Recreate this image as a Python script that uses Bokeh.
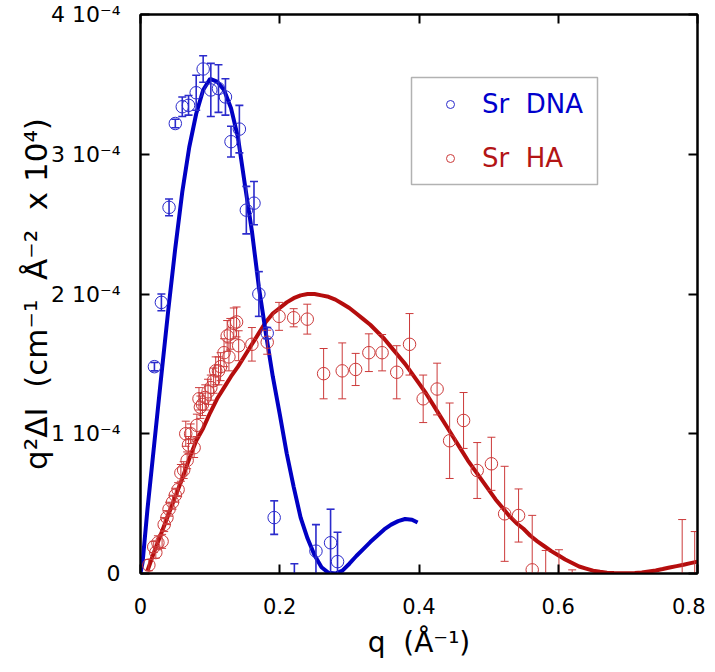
from bokeh.plotting import figure
from bokeh.models import (FixedTicker, LinearAxis, Legend, LegendItem, BoxAnnotation,
                          Range1d, ColumnDataSource)
from bokeh.embed import file_html
from bokeh.resources import INLINE

# ---------------- data (q in 1/Angstrom, intensity in units of 1e-4) ----------------
dna_q = [0.020, 0.030, 0.041, 0.050, 0.060, 0.069, 0.080, 0.090, 0.101, 0.112, 0.122,
         0.130, 0.142, 0.152, 0.163, 0.170, 0.182, 0.192, 0.221, 0.252, 0.273, 0.283]
dna_y = [1.48, 1.94, 2.62, 3.22, 3.34, 3.35, 3.44, 3.61, 3.46, 3.47, 3.41,
         3.09, 3.18, 2.60, 2.65, 2.00, 1.72, 0.40, -0.10, 0.16, 0.22, 0.085]
dna_err = [0.03, 0.06, 0.06, 0.03, 0.07, 0.07, 0.125, 0.095, 0.19, 0.17, 0.13,
           0.11, 0.17, 0.17, 0.155, 0.16, 0.04, 0.12, 0.17, 0.19, 0.24, 0.21]

ha_q = [0.012, 0.019, 0.022, 0.025, 0.031, 0.034, 0.038, 0.041, 0.046, 0.050, 0.054,
        0.058, 0.062, 0.065, 0.067, 0.069, 0.072, 0.077, 0.081, 0.084, 0.086, 0.089,
        0.093, 0.097, 0.101, 0.105, 0.108, 0.112, 0.115, 0.120, 0.1245, 0.127, 0.129,
        0.134, 0.138, 0.141, 0.160, 0.182, 0.199, 0.220, 0.2395, 0.263, 0.2897, 0.309,
        0.328, 0.347, 0.368, 0.3864, 0.406, 0.426, 0.444, 0.464, 0.4836, 0.504, 0.523,
        0.543, 0.5626, 0.582, 0.601, 0.620, 0.778, 0.796]
ha_y = [0.06, 0.19, 0.15, 0.22, 0.23, 0.35, 0.40, 0.46, 0.51, 0.56, 0.60,
        0.72, 0.74, 1.00, 0.81, 0.92, 1.00, 0.90, 1.06, 1.25, 1.19, 1.21,
        1.26, 1.30, 1.33, 1.38, 1.45, 1.45, 1.48, 1.58, 1.70, 1.55, 1.715,
        1.79, 1.80, 1.63, 1.64, 1.655, 1.84, 1.83, 1.82, 1.43, 1.45, 1.46,
        1.58, 1.58, 1.44, 1.64, 1.25, 1.32, 0.95, 1.095, 0.737, 0.785, 0.427,
        0.415, 0.026, -0.10, -0.05, -0.10, -0.05, -0.05]
ha_err = [0.04, 0.04, 0.04, 0.05, 0.05, 0.05, 0.05, 0.05, 0.05, 0.05, 0.05,
          0.06, 0.06, 0.09, 0.06, 0.06, 0.07, 0.07, 0.08, 0.08, 0.08, 0.08,
          0.09, 0.09, 0.09, 0.09, 0.10, 0.10, 0.10, 0.10, 0.11, 0.10, 0.11,
          0.11, 0.107, 0.107, 0.12, 0.086, 0.10, 0.065, 0.107, 0.18, 0.20, 0.115,
          0.135, 0.13, 0.19, 0.22, 0.17, 0.185, 0.27, 0.20, 0.20, 0.19, 0.34,
          0.19, 0.39, 0.265, 0.22, 0.126, 0.436, 0.35]

dna_fit_q = [0.000, 0.003, 0.010, 0.020, 0.030, 0.040, 0.050, 0.060, 0.070, 0.080, 0.090,
             0.100, 0.110, 0.120, 0.130, 0.140, 0.150, 0.160, 0.170, 0.180, 0.190, 0.200,
             0.210, 0.220, 0.230, 0.240, 0.250, 0.260, 0.270, 0.280, 0.290, 0.300, 0.310,
             0.320, 0.330, 0.340, 0.350, 0.360, 0.370, 0.380, 0.390, 0.398]
dna_fit_y = [0.00, 0.08, 0.46, 0.94, 1.42, 1.89, 2.33, 2.73, 3.05, 3.29, 3.46,
             3.54, 3.52, 3.46, 3.33, 3.12, 2.78, 2.45, 2.05, 1.72, 1.41, 1.14,
             0.86, 0.62, 0.40, 0.25, 0.13, 0.045, 0.005, 0.00, 0.02, 0.07, 0.125,
             0.175, 0.225, 0.27, 0.315, 0.35, 0.375, 0.39, 0.385, 0.365]

ha_fit_q = [0.010, 0.020, 0.030, 0.040, 0.050, 0.060, 0.070, 0.080, 0.090, 0.100,
            0.110, 0.120, 0.130, 0.140, 0.150, 0.160, 0.170, 0.180, 0.190, 0.200,
            0.210, 0.220, 0.230, 0.240, 0.250, 0.260, 0.270, 0.280, 0.290, 0.300,
            0.310, 0.320, 0.330, 0.340, 0.350, 0.360, 0.370, 0.380, 0.390, 0.400,
            0.410, 0.420, 0.430, 0.440, 0.450, 0.460, 0.470, 0.480, 0.490, 0.500,
            0.510, 0.520, 0.530, 0.540, 0.550, 0.560, 0.570, 0.580, 0.590, 0.600,
            0.610, 0.620, 0.630, 0.640, 0.650, 0.660, 0.670, 0.680, 0.690, 0.700,
            0.710, 0.720, 0.730, 0.740, 0.750, 0.760, 0.770, 0.780, 0.790, 0.800]
ha_fit_y = [0.02, 0.16, 0.29, 0.42, 0.55, 0.68, 0.82, 0.95, 1.04, 1.15,
            1.25, 1.33, 1.41, 1.48, 1.56, 1.64, 1.72, 1.80, 1.86, 1.90,
            1.94, 1.97, 1.99, 2.00, 2.00, 1.99, 1.98, 1.96, 1.93, 1.90,
            1.86, 1.82, 1.78, 1.73, 1.68, 1.62, 1.56, 1.50, 1.43, 1.36,
            1.29, 1.21, 1.13, 1.05, 0.97, 0.89, 0.81, 0.74, 0.67, 0.60,
            0.53, 0.47, 0.41, 0.36, 0.32, 0.27, 0.23, 0.195, 0.16, 0.13,
            0.10, 0.075, 0.05, 0.035, 0.02, 0.012, 0.006, 0.003, 0.002, 0.002,
            0.004, 0.008, 0.015, 0.022, 0.032, 0.043, 0.053, 0.063, 0.074, 0.085]

x_ticks = [0, 0.2, 0.4, 0.6, 0.8]
x_tick_labels = ["0", "0.2", "0.4", "0.6", "0.8"]
y_ticks = [0, 1, 2, 3, 4]
y_tick_labels = ["0", "1 10\u207b\u2074", "2 10\u207b\u2074", "3 10\u207b\u2074", "4 10\u207b\u2074"]

NB = "\u00a0"
series_labels = ["Sr" + NB + " DNA", "Sr" + NB + " HA"]
x_label = "q" + NB + " (\u00c5\u207b\u00b9)"
y_label = ("q\u00b2\u0394I" + NB + " (cm\u207b\u00b9" + NB + " \u00c5\u207b\u00b2"
           + NB + " x 10\u2074)")

# ---------------- styling ----------------
FONT = "DejaVu Sans"
BLUE_LINE = "#0000c4"
BLUE_MARK = "#2b2bcc"
RED_LINE = "#b50d0d"
RED_MARK = "#cc3a3a"

p = figure(frame_width=557, frame_height=559,
           x_range=Range1d(0, 0.8), y_range=Range1d(0, 4),
           output_backend="svg", toolbar_location=None,
           min_border_left=140, min_border_top=14, min_border_right=8, min_border_bottom=92,
           background_fill_color="white", border_fill_color="white")
p.xgrid.visible = False
p.ygrid.visible = False
p.outline_line_color = "black"
p.outline_line_width = 2


def style_axis(ax, ticks, labels, show_labels):
    ax.ticker = FixedTicker(ticks=ticks)
    ax.major_label_overrides = {t: l for t, l in zip(ticks, labels)}
    ax.minor_tick_line_color = None
    ax.major_tick_in = 9
    ax.major_tick_out = 0
    ax.major_tick_line_width = 2
    ax.major_tick_line_color = "black"
    ax.axis_line_color = "black"
    ax.axis_line_width = 2
    ax.major_label_text_font = FONT
    ax.major_label_text_color = "black"
    if not show_labels:
        ax.major_label_text_font_size = "0px"
        ax.major_label_standoff = 0


style_axis(p.xaxis[0], x_ticks, x_tick_labels, True)
style_axis(p.yaxis[0], y_ticks, y_tick_labels, True)
p.xaxis.major_label_text_font_size = "21px"
p.yaxis.major_label_text_font_size = "22px"
p.xaxis.major_label_standoff = 24
p.yaxis.major_label_standoff = 20
p.xaxis.axis_label = x_label
p.yaxis.axis_label = y_label
p.xaxis.axis_label_text_font_size = "28px"
p.yaxis.axis_label_text_font_size = "31px"
for ax in (p.xaxis[0], p.yaxis[0]):
    ax.axis_label_text_font = FONT
    ax.axis_label_text_font_style = "normal"
    ax.axis_label_text_color = "black"
p.xaxis.axis_label_standoff = 9
p.yaxis.axis_label_standoff = -6

top_ax = LinearAxis()
style_axis(top_ax, x_ticks, ["" for _ in x_ticks], False)
p.add_layout(top_ax, "above")
right_ax = LinearAxis()
style_axis(right_ax, y_ticks, ["" for _ in y_ticks], False)
p.add_layout(right_ax, "right")

# ---------------- fits ----------------
p.line(ha_fit_q, ha_fit_y, line_color=RED_LINE, line_width=4)
p.line(dna_fit_q, dna_fit_y, line_color=BLUE_LINE, line_width=4)

# ---------------- error bars + markers ----------------
def errbars(q, y, e, color, width):
    src = ColumnDataSource(dict(q=q, lo=[a - b for a, b in zip(y, e)],
                                hi=[a + b for a, b in zip(y, e)]))
    p.segment(x0="q", y0="lo", x1="q", y1="hi", source=src, line_color=color, line_width=width)
    p.scatter("q", "lo", source=src, marker="dash", size=8, line_color=color, line_width=width)
    p.scatter("q", "hi", source=src, marker="dash", size=8, line_color=color, line_width=width)


errbars(ha_q, ha_y, ha_err, RED_MARK, 1)
r_ha = p.scatter(ha_q, ha_y, marker="circle", size=12.5, fill_color=None,
                 line_color=RED_MARK, line_width=1)
errbars(dna_q, dna_y, dna_err, BLUE_MARK, 1.6)
r_dna = p.scatter(dna_q, dna_y, marker="circle", size=12.5, fill_color=None,
                  line_color=BLUE_MARK, line_width=1)

# ---------------- legend ----------------
p.add_layout(BoxAnnotation(left=271, right=457, bottom=389, top=496,
                           left_units="screen", right_units="screen",
                           bottom_units="screen", top_units="screen",
                           fill_color=None, line_color="black", line_width=1.5))


def make_legend(label, renderer, color, y_bottom):
    leg = Legend(items=[LegendItem(label=label, renderers=[renderer])],
                 location=(300, y_bottom), orientation="vertical",
                 border_line_color=None, background_fill_alpha=0,
                 padding=0, margin=0, spacing=0,
                 glyph_width=20, glyph_height=40, label_standoff=22,
                 label_text_font=FONT, label_text_font_size="26px",
                 label_text_color=color)
    p.add_layout(leg, "center")


make_legend(series_labels[0], r_dna, "#0000cc", 449)
make_legend(series_labels[1], r_ha, "#b31515", 395)

open("out.html", "w").write(file_html(p, INLINE))
